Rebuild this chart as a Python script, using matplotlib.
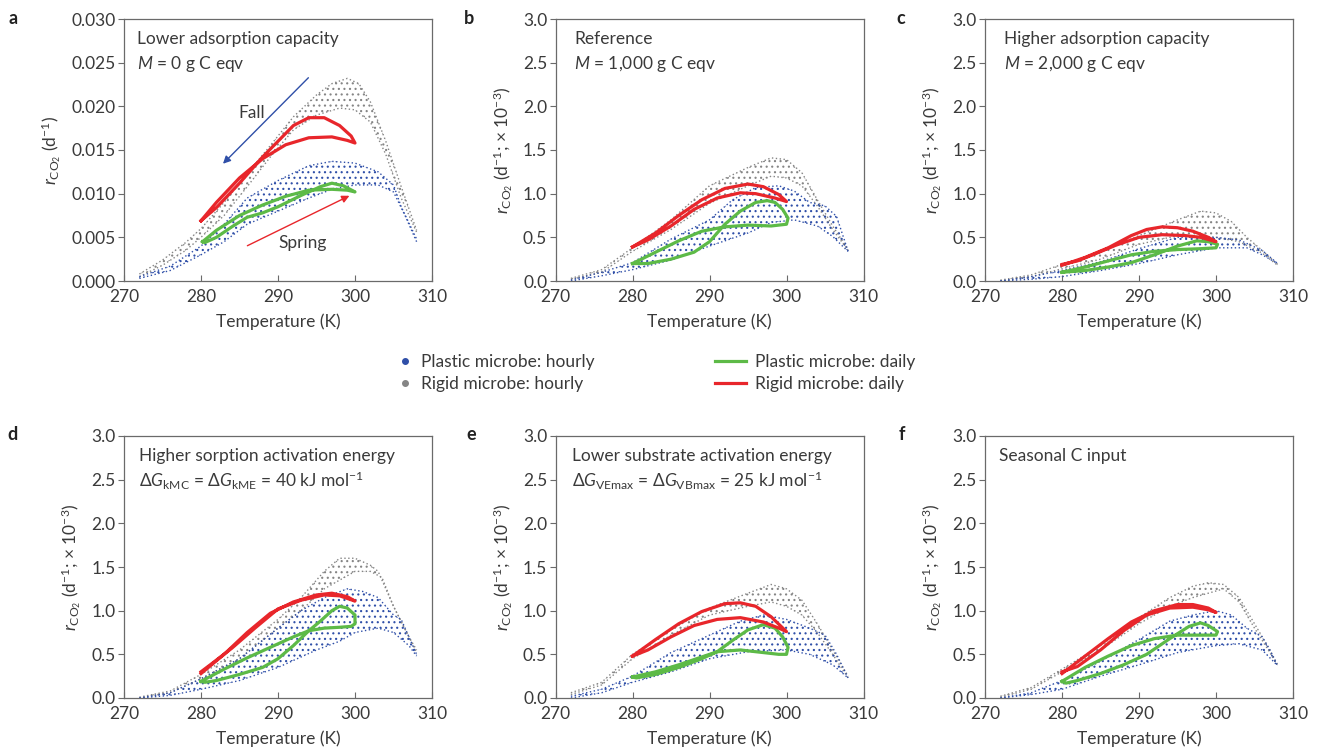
import matplotlib
matplotlib.use('Agg')
import matplotlib.pyplot as plt
from matplotlib.lines import Line2D

plt.rcParams['font.family'] = ['Lato', 'DejaVu Sans']
plt.rcParams['mathtext.fontset'] = 'custom'
plt.rcParams['mathtext.rm'] = 'Lato'
plt.rcParams['mathtext.it'] = 'Lato:italic'
plt.rcParams['mathtext.bf'] = 'Lato:bold'
plt.rcParams['hatch.linewidth'] = 0.8

TXT = '#3a3a3a'
SPINE = '#6a6a6a'
BLUE = '#2f4fa8'
GRAY = '#858585'
GREEN = '#5dba47'
RED = '#e8262b'

# ---- data: (temperature K, r_CO2) ----
# panel a in units of 1e-3 d^-1 (axis shows raw values), others in 1e-3 d^-1
a_gray_up = [(272, 0.8), (275, 2.4), (278, 4.4), (280, 6.0), (283, 9.0), (286, 12.3), (289, 15.5),
             (292, 18.8), (295, 21.3), (297, 22.6), (299, 23.2), (300.5, 22.6), (302, 20.5),
             (304, 16.0), (306, 10.8), (308, 5.8)]
a_gray_lo = [(272, 0.5), (275, 1.8), (278, 3.5), (280, 5.0), (283, 7.5), (286, 10.8), (289, 14.2),
             (292, 17.3), (295, 19.0), (298, 19.8), (300, 19.6), (302, 18.2), (304, 14.5),
             (306, 9.5), (308, 5.6)]
a_blue_up = [(272, 0.5), (276, 1.7), (280, 4.0), (283, 6.5), (286, 9.5), (290, 11.5), (294, 13.2),
             (297, 13.7), (300, 13.5), (303, 12.5), (305, 11.0), (306, 8.5), (308, 4.8)]
a_blue_lo = [(272, 0.3), (276, 1.2), (280, 3.0), (283, 4.5), (286, 6.5), (290, 8.0), (294, 9.5),
             (297, 10.5), (300, 11.0), (303, 11.0), (305, 10.2), (306.5, 7.5), (308, 4.5)]
a_red = [(280, 6.9), (282, 9.0), (285, 11.8), (288, 14.0), (291, 15.6), (294, 16.4), (297, 16.5),
         (299, 16.1), (300, 15.8), (299.5, 16.6), (298, 17.8), (296, 18.7), (294, 18.7), (292, 17.8),
         (290, 16.0), (288, 14.2), (285, 11.2), (282, 8.4), (280, 6.9)]
a_green = [(280.2, 4.5), (282, 5.8), (285, 7.5), (288, 8.7), (291, 9.7), (294, 10.4), (297, 10.5),
           (299, 10.4), (300, 10.2), (298.5, 10.9), (297, 11.2), (295.5, 10.8), (293, 9.8), (290, 8.5),
           (288, 7.8), (286, 7.3), (284, 6.2), (282, 5.0), (280.5, 4.4), (280.2, 4.5)]

b_gray_up = [(272, 0.03), (276, 0.13), (280, 0.38), (285, 0.70), (290, 1.09), (295, 1.30), (298, 1.41),
             (300, 1.39), (302, 1.24), (304, 0.93), (306, 0.63), (308, 0.36)]
b_gray_lo = [(272, 0.02), (276, 0.10), (280, 0.34), (285, 0.59), (290, 0.89), (295, 1.09), (298, 1.20),
             (300, 1.18), (302, 1.09), (304, 0.86), (306, 0.59), (308, 0.35)]
b_blue_up = [(272, 0.01), (276, 0.10), (280, 0.21), (285, 0.48), (290, 0.70), (293, 0.93), (296, 1.07),
             (299, 1.09), (301, 1.03), (303, 0.90), (305, 0.86), (306.5, 0.74), (308, 0.34)]
b_blue_lo = [(272, 0.0), (276, 0.06), (280, 0.13), (285, 0.24), (290, 0.40), (295, 0.55), (298, 0.67),
             (301, 0.70), (304, 0.63), (306, 0.51), (307.5, 0.38), (308, 0.34)]
b_red = [(280, 0.39), (283, 0.55), (286, 0.75), (289, 0.93), (292, 1.06), (295, 1.11), (297, 1.08),
         (299, 0.99), (300, 0.91), (298.5, 0.95), (296, 1.00), (294, 1.01), (291, 0.95), (288, 0.82),
         (285, 0.63), (282, 0.47), (280, 0.39)]
b_green = [(280, 0.20), (283, 0.33), (286, 0.46), (289, 0.57), (292, 0.62), (295, 0.64), (298, 0.63),
           (300, 0.65), (300.2, 0.72), (299.5, 0.82), (298.5, 0.90), (297.5, 0.92), (296, 0.90),
           (294, 0.80), (292, 0.65), (290, 0.45), (288, 0.33), (285, 0.25), (282, 0.20), (280, 0.20)]

c_gray_up = [(272, 0.01), (276, 0.07), (280, 0.19), (285, 0.33), (290, 0.52), (295, 0.70), (298, 0.80),
             (300, 0.78), (302, 0.68), (304, 0.50), (306, 0.35), (308, 0.19)]
c_gray_lo = [(272, 0.0), (276, 0.05), (280, 0.14), (285, 0.25), (290, 0.42), (295, 0.52), (300, 0.50),
             (303, 0.45), (306, 0.32), (308, 0.18)]
c_blue_up = [(272, 0.0), (276, 0.05), (280, 0.12), (285, 0.22), (290, 0.37), (295, 0.50), (300, 0.50),
             (303, 0.47), (306, 0.35), (308, 0.20)]
c_blue_lo = [(272, 0.0), (276, 0.02), (280, 0.05), (285, 0.12), (290, 0.20), (295, 0.30), (300, 0.38),
             (304, 0.38), (306, 0.30), (308, 0.20)]
c_red = [(280, 0.18), (283, 0.27), (286, 0.38), (289, 0.52), (291, 0.59), (293, 0.62), (295, 0.61),
         (297, 0.57), (299, 0.50), (300, 0.45), (298, 0.50), (296, 0.52), (293, 0.53), (290, 0.50),
         (287, 0.41), (284, 0.30), (282, 0.23), (280, 0.19)]
c_green = [(280, 0.10), (283, 0.16), (286, 0.23), (289, 0.30), (292, 0.34), (295, 0.36), (298, 0.37),
           (300, 0.38), (300.2, 0.42), (299, 0.45), (297.5, 0.46), (295, 0.40), (292, 0.30), (289, 0.21),
           (286, 0.16), (283, 0.12), (280, 0.10)]

d_gray_up = [(272, 0.01), (276, 0.08), (280, 0.27), (285, 0.55), (290, 0.90), (293, 1.15), (296, 1.45),
             (298, 1.60), (300, 1.60), (302, 1.52), (303, 1.45), (305, 1.05), (307, 0.70), (308, 0.55)]
d_gray_lo = [(272, 0.0), (276, 0.06), (280, 0.22), (285, 0.45), (290, 0.80), (293, 1.00), (296, 1.25),
             (298, 1.35), (300, 1.45), (302, 1.45), (303.5, 1.38), (305, 1.05), (307, 0.70), (308, 0.52)]
d_blue_up = [(272, 0.0), (276, 0.06), (280, 0.22), (285, 0.45), (290, 0.80), (293, 1.00), (296, 1.15),
             (299, 1.25), (301, 1.22), (303, 1.15), (305, 0.95), (306, 0.90), (307, 0.70), (308, 0.50)]
d_blue_lo = [(272, 0.0), (276, 0.03), (280, 0.10), (285, 0.20), (290, 0.35), (295, 0.55), (298, 0.65),
             (300, 0.75), (303, 0.80), (305, 0.75), (307, 0.60), (308, 0.48)]
d_red = [(280, 0.28), (283, 0.50), (286, 0.75), (289, 0.97), (292, 1.10), (295, 1.18), (297, 1.20),
         (299, 1.16), (300, 1.11), (298, 1.17), (296, 1.18), (293, 1.12), (290, 1.02), (287, 0.80),
         (284, 0.57), (281.5, 0.40), (280, 0.30)]
d_green = [(280, 0.19), (283, 0.33), (286, 0.46), (289, 0.58), (292, 0.70), (294, 0.77), (296, 0.80),
           (298, 0.81), (299.5, 0.82), (300, 0.85), (300, 0.95), (299, 1.03), (298, 1.05), (297, 1.00),
           (295.5, 0.88), (294, 0.77), (292, 0.60), (290, 0.45), (288, 0.35), (285, 0.27), (282, 0.20),
           (280.5, 0.18), (280, 0.19)]

e_gray_up = [(272, 0.06), (276, 0.18), (280, 0.50), (285, 0.78), (290, 1.03), (295, 1.20), (298, 1.30),
             (300, 1.25), (302, 1.12), (304, 0.85), (306, 0.55), (308, 0.25)]
e_gray_lo = [(272, 0.04), (276, 0.15), (280, 0.45), (285, 0.72), (290, 0.95), (295, 1.05), (298, 1.10),
             (300, 1.05), (302, 0.95), (304, 0.75), (306, 0.50), (308, 0.23)]
e_blue_up = [(272, 0.02), (276, 0.10), (280, 0.25), (285, 0.52), (290, 0.72), (294, 0.88), (297, 0.95),
             (300, 0.90), (303, 0.80), (305, 0.72), (306.5, 0.50), (308, 0.23)]
e_blue_lo = [(272, 0.0), (276, 0.06), (280, 0.18), (285, 0.30), (290, 0.45), (295, 0.53), (300, 0.55),
             (303, 0.50), (306, 0.38), (308, 0.23)]
e_red = [(280, 0.48), (283, 0.67), (286, 0.85), (289, 0.99), (292, 1.08), (294, 1.09), (296, 1.05),
         (298, 0.93), (300, 0.76), (299, 0.80), (297, 0.87), (294, 0.92), (291, 0.90), (288, 0.83),
         (285, 0.70), (282, 0.55), (280, 0.48)]
e_green = [(280, 0.24), (283, 0.30), (286, 0.38), (289, 0.47), (291, 0.53), (294, 0.55), (297, 0.52),
           (299, 0.50), (300, 0.50), (300.2, 0.58), (299.5, 0.70), (298.5, 0.80), (297, 0.84), (295, 0.78),
           (293, 0.66), (291, 0.53), (289, 0.45), (286, 0.35), (283, 0.27), (280.5, 0.23), (280, 0.24)]

f_gray_up = [(272, 0.02), (276, 0.12), (280, 0.33), (285, 0.60), (290, 0.92), (294, 1.15), (297, 1.28),
             (299, 1.32), (301, 1.30), (303, 1.15), (305, 0.85), (307, 0.55), (308, 0.38)]
f_gray_lo = [(272, 0.01), (276, 0.10), (280, 0.30), (285, 0.55), (290, 0.85), (294, 1.05), (297, 1.15),
             (299, 1.20), (301, 1.25), (303, 1.10), (305, 0.80), (307, 0.52), (308, 0.37)]
f_blue_up = [(272, 0.0), (276, 0.06), (280, 0.20), (285, 0.42), (290, 0.67), (294, 0.88), (297, 0.95),
             (300, 1.00), (302, 0.95), (304, 0.80), (306, 0.70), (307, 0.55), (308, 0.37)]
f_blue_lo = [(272, 0.0), (276, 0.04), (280, 0.10), (285, 0.25), (290, 0.38), (295, 0.52), (300, 0.60),
             (303, 0.62), (306, 0.55), (308, 0.37)]
f_red = [(280, 0.28), (283, 0.48), (286, 0.68), (289, 0.87), (292, 1.00), (295, 1.07), (297, 1.07),
         (299, 1.03), (300, 0.98), (299, 1.01), (297, 1.04), (294, 1.03), (291, 0.95), (288, 0.77),
         (285, 0.55), (282, 0.36), (280, 0.30)]
f_green = [(280, 0.19), (283, 0.35), (286, 0.48), (289, 0.60), (292, 0.68), (295, 0.72), (298, 0.72),
           (300, 0.72), (300.2, 0.76), (299, 0.83), (298, 0.86), (296.5, 0.82), (294, 0.68), (291, 0.50),
           (288, 0.38), (285, 0.28), (282, 0.20), (280.5, 0.17), (280, 0.19)]

panel_letters = ['a', 'b', 'c', 'd', 'e', 'f']
panel_titles = ['Lower adsorption capacity', 'Reference', 'Higher adsorption capacity',
                'Higher sorption activation energy', 'Lower substrate activation energy',
                'Seasonal C input']
panel_subtitles = [r'$M$ = 0 g C eqv', r'$M$ = 1,000 g C eqv', r'$M$ = 2,000 g C eqv',
                   r'Δ$G_{\mathrm{kMC}}$ = Δ$G_{\mathrm{kME}}$ = 40 kJ mol$^{-1}$',
                   r'Δ$G_{\mathrm{VEmax}}$ = Δ$G_{\mathrm{VBmax}}$ = 25 kJ mol$^{-1}$',
                   None]
legend_labels = ['Plastic microbe: hourly', 'Rigid microbe: hourly',
                 'Plastic microbe: daily', 'Rigid microbe: daily']

panels = [
    (a_gray_up, a_gray_lo, a_blue_up, a_blue_lo, a_red, a_green),
    (b_gray_up, b_gray_lo, b_blue_up, b_blue_lo, b_red, b_green),
    (c_gray_up, c_gray_lo, c_blue_up, c_blue_lo, c_red, c_green),
    (d_gray_up, d_gray_lo, d_blue_up, d_blue_lo, d_red, d_green),
    (e_gray_up, e_gray_lo, e_blue_up, e_blue_lo, e_red, e_green),
    (f_gray_up, f_gray_lo, f_blue_up, f_blue_lo, f_red, f_green),
]


def xs(pts):
    return [p[0] for p in pts]


def ys(pts, s):
    return [p[1] * s for p in pts]


def draw_cloud(ax, upper, lower, color, s):
    # hourly points shown as a dotted band between the read-off envelopes
    poly = upper + lower[::-1]
    ax.fill(xs(poly), ys(poly, s), facecolor='none', edgecolor=color, hatch='...', linewidth=0)
    for path in (upper, lower):
        ax.plot(xs(path), ys(path, s), color=color, lw=1.0, ls=(0, (1, 1.8)))


fig = plt.figure(figsize=(13.17, 7.52), dpi=100)
W, H = 1317.0, 752.0
lefts = [124, 555.5, 985]
tops = [19, 436]
text_x = [0.042, 0.06, 0.062, 0.049, 0.054, 0.046]
letter_pos = [(13, 18), (469, 18), (901, 18), (13, 434), (471, 434), (902, 434)]

for i, (g_up, g_lo, b_up, b_lo, red, green) in enumerate(panels):
    row, col = divmod(i, 3)
    ax = fig.add_axes([lefts[col] / W, 1 - (tops[row] + 262) / H, 308 / W, 262 / H])
    s = 1e-3 if i == 0 else 1.0

    draw_cloud(ax, g_up, g_lo, GRAY, s)
    draw_cloud(ax, b_up, b_lo, BLUE, s)
    ax.plot(xs(green), ys(green, s), color=GREEN, lw=2.3, solid_joinstyle='round')
    ax.plot(xs(red), ys(red, s), color=RED, lw=2.3, solid_joinstyle='round')

    ax.set_xlim(270, 310)
    ax.set_xticks([270, 280, 290, 300, 310])
    if i == 0:
        ax.set_ylim(0, 0.030)
        ax.set_yticks([0, 0.005, 0.010, 0.015, 0.020, 0.025, 0.030])
        ax.set_yticklabels(['0.000', '0.005', '0.010', '0.015', '0.020', '0.025', '0.030'])
        ax.set_ylabel(r'$r_{\mathrm{CO}_2}$ (d$^{-1}$)', fontsize=12.5, color=TXT, labelpad=6)
    else:
        ax.set_ylim(0, 3.0)
        ax.set_yticks([0, 0.5, 1.0, 1.5, 2.0, 2.5, 3.0])
        ax.set_yticklabels(['0.0', '0.5', '1.0', '1.5', '2.0', '2.5', '3.0'])
        ax.set_ylabel(r'$r_{\mathrm{CO}_2}$ (d$^{-1}$; × 10$^{-3}$)', fontsize=12.5, color=TXT, labelpad=6)
    ax.set_xlabel('Temperature (K)', fontsize=12.5, color=TXT, labelpad=6)
    ax.tick_params(axis='x', direction='in', length=4, width=0.8, color=SPINE, labelsize=12.5,
                   labelcolor=TXT, pad=6)
    ax.tick_params(axis='y', direction='out', length=4, width=0.8, color=SPINE, labelsize=12.5,
                   labelcolor=TXT, pad=2)
    for sp in ax.spines.values():
        sp.set_color(SPINE)
        sp.set_linewidth(0.9)

    ax.text(text_x[i], 0.925, panel_titles[i], transform=ax.transAxes, fontsize=12.5, color=TXT,
            va='center', ha='left')
    if panel_subtitles[i]:
        ax.text(text_x[i], 0.83, panel_subtitles[i], transform=ax.transAxes, fontsize=12.5,
                color=TXT, va='center', ha='left')

    lx, ly = letter_pos[i]
    fig.text(lx / W, 1 - ly / H, panel_letters[i], fontsize=13, fontweight='bold', color='#222222',
             ha='center', va='center')

    if i == 0:
        ax.annotate('', xy=(282.6, 0.0132), xytext=(294.2, 0.0235),
                    arrowprops=dict(arrowstyle='-|>', color=BLUE, lw=1.0, mutation_scale=11))
        ax.annotate('', xy=(299.6, 0.0099), xytext=(285.7, 0.0039),
                    arrowprops=dict(arrowstyle='-|>', color=RED, lw=1.0, mutation_scale=11))
        ax.text(286.6, 0.0192, 'Fall', fontsize=12.5, color=TXT, ha='center', va='center')
        ax.text(293.2, 0.0043, 'Spring', fontsize=12.5, color=TXT, ha='center', va='center')

h_dots = [Line2D([], [], ls='none', marker='o', markersize=4, color=BLUE),
          Line2D([], [], ls='none', marker='o', markersize=4, color=GRAY)]
h_lines = [Line2D([], [], color=GREEN, lw=2.3), Line2D([], [], color=RED, lw=2.3)]
leg1 = fig.legend(h_dots, legend_labels[:2], loc='center left', bbox_to_anchor=(388 / W, 1 - 373 / H),
                  frameon=False, fontsize=12.5, handlelength=1.0, handletextpad=0.4,
                  labelspacing=0.3, borderpad=0, labelcolor=TXT)
leg2 = fig.legend(h_lines, legend_labels[2:], loc='center left', bbox_to_anchor=(706 / W, 1 - 373 / H),
                  frameon=False, fontsize=12.5, handlelength=1.8, handletextpad=0.5,
                  labelspacing=0.3, borderpad=0, labelcolor=TXT)

fig.savefig('out.png', dpi=100)
